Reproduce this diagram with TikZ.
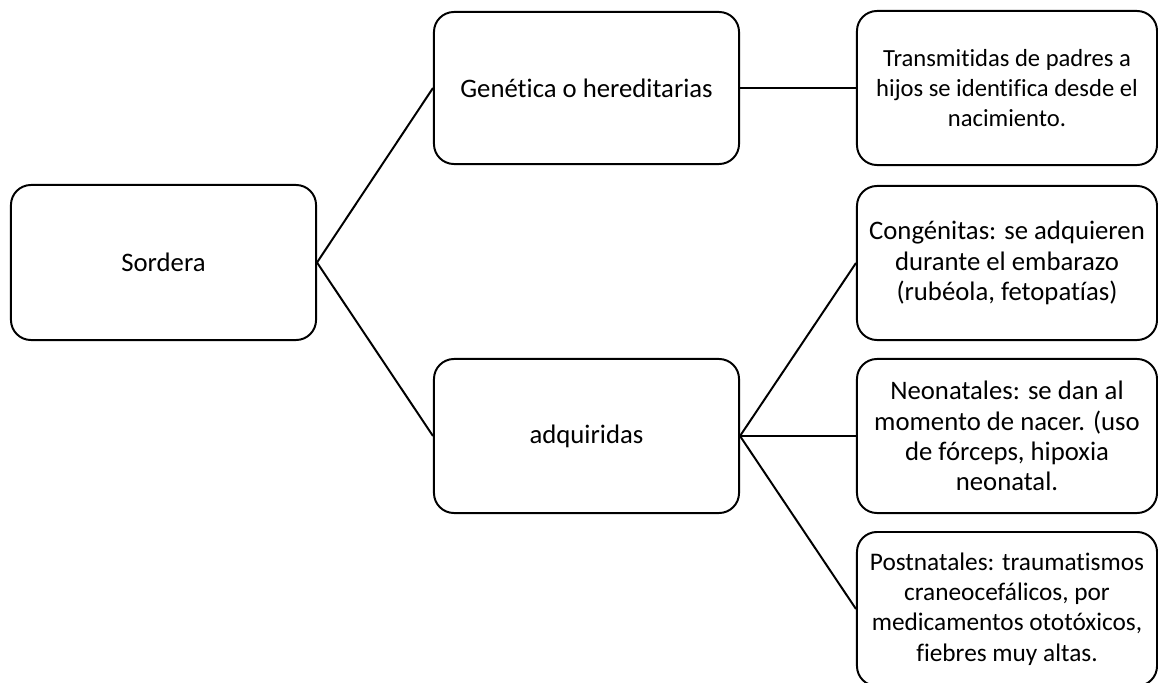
\documentclass[tikz,border=0pt]{standalone}
\usepackage{fontspec}
\setmainfont{Carlito}[Ligatures=NoCommon]
\usepackage{tikz}
\tikzset{box/.style={draw, rounded corners=0.5cm, align=center, minimum width=7.625cm, minimum height=3.85cm, font=\fontsize{19}{23}\selectfont}}
\tikzset{leaf/.style={box, minimum width=7.5cm, font=\fontsize{19}{21.5}\selectfont}}

\begin{document}
\begin{tikzpicture}[x=0.025cm, y=-0.025cm, line width=1.4pt]
    
    \clip (0,0) rectangle (1158,683);
    
    \node [box, minimum height=3.875cm] (sordera) at (163.5, 262.5) {Sordera};
    \node [box, minimum height=3.8cm] (genetica) at (586.5, 88) {Genética o hereditarias};
    \node [box] (adquiridas) at (586.5, 436) {adquiridas};
    
    \node [leaf, minimum height=3.85cm, font=\fontsize{17.5}{21.5}\selectfont] (transmitidas) at (1007, 88) {Transmitidas de padres a\\hijos se identifica desde el\\nacimiento.};
    \node [leaf] (congenitas) at (1007, 263) {Congénitas: se adquieren\\durante el embarazo\\(rubéola, fetopatías)};
    \node [leaf] (neonatales) at (1007, 436) {Neonatales: se dan al\\momento de nacer. (uso\\de fórceps, hipoxia\\neonatal.};
    \node [leaf, font=\fontsize{18}{21.5}\selectfont] (postnatales) at (1007, 609) {Postnatales: traumatismos\\craneocefálicos, por\\medicamentos ototóxicos,\\fiebres muy altas.};
    
    \foreach \n in {genetica, adquiridas}
        \draw (sordera.east) -- (\n.west);
    
    \draw (genetica.east) -- (transmitidas.west);
    
    \foreach \n in {congenitas, neonatales, postnatales}
        \draw (adquiridas.east) -- (\n.west);
    
\end{tikzpicture}
\end{document}
